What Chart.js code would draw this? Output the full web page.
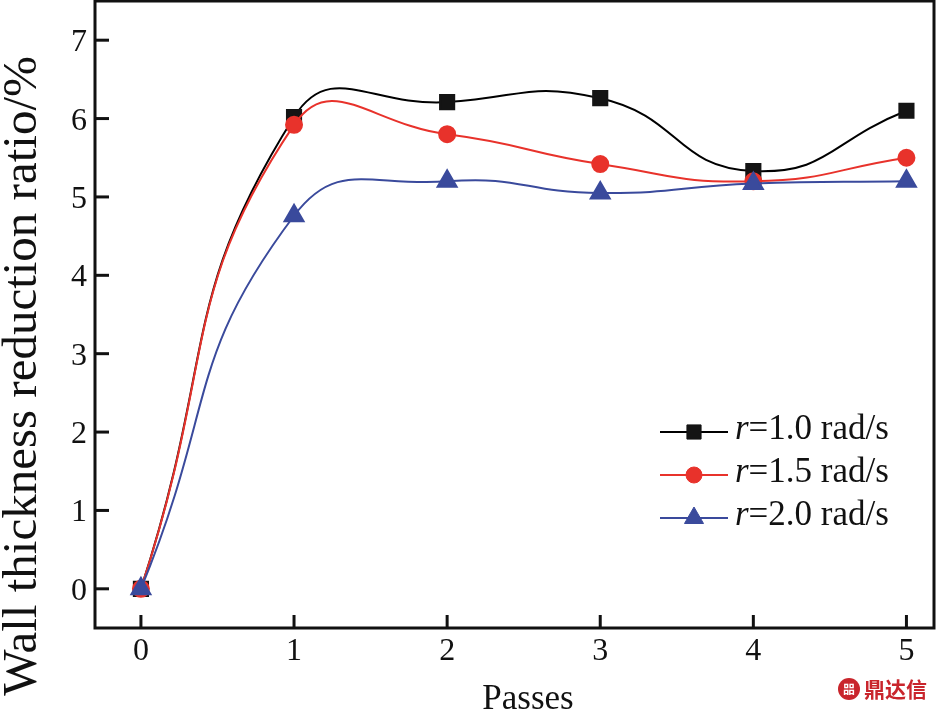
<!DOCTYPE html>
<html>
<head>
<meta charset="utf-8">
<script src="https://cdn.jsdelivr.net/npm/chart.js@4"></script>
<style>
  html, body { margin: 0; padding: 0; background: #fff; }
  canvas { display: block; }
</style>
</head>
<body>
<canvas id="passesChart" width="939" height="712"></canvas>
<script>
const passes = [0, 1, 2, 3, 4, 5];
const ratioR10 = [0, 6.02, 6.21, 6.26, 5.33, 6.10];
const ratioR15 = [0, 5.92, 5.80, 5.42, 5.20, 5.50];
const ratioR20 = [0, 4.76, 5.20, 5.05, 5.17, 5.20];
const seriesLabels = ['=1.0 rad/s', '=1.5 rad/s', '=2.0 rad/s'];
const xTicks = [0, 1, 2, 3, 4, 5];
const yTicks = [0, 1, 2, 3, 4, 5, 6, 7];

const serif = "'Liberation Serif', 'Times New Roman', serif";

function toPoints(ys) {
    return passes.map((x, i) => ({ x: x, y: ys[i] }));
}

// frame, inward ticks, tick labels, titles, legend and watermark
const decorations = {
    id: 'decorations',
    afterDraw(chart) {
        const ctx = chart.ctx;
        const area = chart.chartArea;
        const xs = chart.scales.x;
        const ys = chart.scales.y;

        ctx.save();
        ctx.strokeStyle = '#111';
        ctx.lineWidth = 3;
        ctx.strokeRect(area.left, area.top, area.right - area.left, area.bottom - area.top);

        ctx.fillStyle = '#111';
        ctx.font = '32px ' + serif;
        ctx.textAlign = 'center';
        ctx.textBaseline = 'alphabetic';
        xTicks.forEach(v => {
            const px = xs.getPixelForValue(v);
            ctx.beginPath();
            ctx.moveTo(px, area.bottom);
            ctx.lineTo(px, area.bottom - 13);
            ctx.stroke();
            ctx.fillText(String(v), px, 660);
        });
        ctx.textAlign = 'right';
        yTicks.forEach(v => {
            const py = ys.getPixelForValue(v);
            ctx.beginPath();
            ctx.moveTo(area.left, py);
            ctx.lineTo(area.left + 14, py);
            ctx.stroke();
            ctx.fillText(String(v), 87, py + 11);
        });

        // axis titles
        ctx.font = '35px ' + serif;
        ctx.textAlign = 'center';
        ctx.fillText('Passes', 528, 709);

        ctx.save();
        ctx.translate(36, 376);
        ctx.rotate(-Math.PI / 2);
        ctx.font = '49px ' + serif;
        ctx.fillText('Wall thickness reduction ratio/%', 0, 0);
        ctx.restore();

        // legend
        const rows = [432, 475, 518];
        chart.data.datasets.forEach((ds, i) => {
            const y = rows[i];
            ctx.strokeStyle = ds.borderColor;
            ctx.lineWidth = 2;
            ctx.beginPath();
            ctx.moveTo(660, y);
            ctx.lineTo(728, y);
            ctx.stroke();
            ctx.fillStyle = ds.pointBackgroundColor;
            ctx.strokeStyle = ds.pointBorderColor;
            ctx.lineWidth = 1;
            Chart.helpers.drawPoint(ctx, {
                pointStyle: ds.pointStyle,
                radius: ds.pointRadius,
                rotation: 0,
                borderWidth: 1
            }, 694, y);

            ctx.fillStyle = '#111';
            ctx.textAlign = 'left';
            ctx.font = 'italic 35px ' + serif;
            ctx.fillText('r', 735, y + 7);
            const w = ctx.measureText('r').width;
            ctx.font = '35px ' + serif;
            ctx.fillText(seriesLabels[i], 735 + w, y + 7);
        });

        // watermark
        ctx.fillStyle = '#c9252c';
        ctx.beginPath();
        ctx.arc(849, 689, 11, 0, Math.PI * 2);
        ctx.fill();
        ctx.fillStyle = '#fff';
        ctx.font = 'bold 12px "Noto Sans CJK SC"';
        ctx.textAlign = 'center';
        ctx.textBaseline = 'middle';
        ctx.fillText('㗊', 849, 689);
        ctx.fillStyle = '#c9252c';
        ctx.font = 'bold 21px "Noto Sans CJK SC"';
        ctx.textAlign = 'left';
        ctx.fillText('鼎达信', 864, 689);
        ctx.restore();
    }
};

const ctx = document.getElementById('passesChart').getContext('2d');

new Chart(ctx, {
    type: 'line',
    data: {
        datasets: [{
            label: 'r=1.0 rad/s',
            data: toPoints(ratioR10),
            borderColor: '#000',
            borderWidth: 2,
            pointStyle: 'rect',
            pointRadius: 10,
            pointBackgroundColor: '#141414',
            pointBorderColor: '#141414',
            order: 3
        }, {
            label: 'r=1.5 rad/s',
            data: toPoints(ratioR15),
            borderColor: '#e8322b',
            borderWidth: 2,
            pointStyle: 'circle',
            pointRadius: 8,
            pointBackgroundColor: '#e8322b',
            pointBorderColor: '#e8322b',
            order: 2
        }, {
            label: 'r=2.0 rad/s',
            data: toPoints(ratioR20),
            borderColor: '#3a4a9c',
            borderWidth: 2,
            pointStyle: 'triangle',
            pointRadius: 11,
            pointBackgroundColor: '#3a4a9c',
            pointBorderColor: '#3a4a9c',
            order: 1
        }]
    },
    options: {
        responsive: false,
        animation: false,
        layout: { autoPadding: false, padding: { top: 1, right: 5, left: 0, bottom: 0 } },
        elements: { line: { tension: 0.5, fill: false } },
        plugins: {
            legend: { display: false },
            tooltip: { enabled: false }
        },
        scales: {
            x: {
                type: 'linear',
                min: -0.3,
                max: 5.18,
                afterFit: scale => { scale.height = 84; },
                grid: { display: false, drawTicks: false },
                border: { display: false },
                ticks: { display: false, stepSize: 1 }
            },
            y: {
                min: -0.5,
                max: 7.5,
                afterFit: scale => { scale.width = 95; },
                grid: { display: false, drawTicks: false },
                border: { display: false },
                ticks: { display: false, stepSize: 1 }
            }
        }
    },
    plugins: [decorations]
});
</script>
</body>
</html>
